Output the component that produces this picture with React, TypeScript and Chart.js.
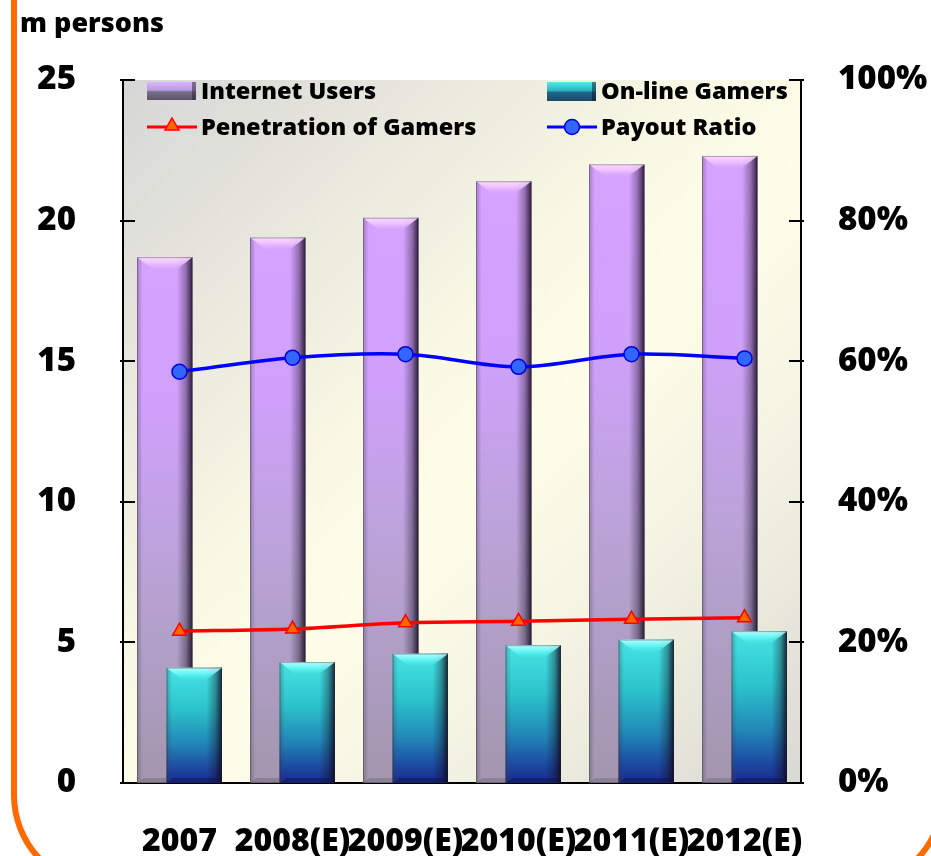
import React, { useEffect, useRef } from 'react';
import { Chart, registerables } from 'chart.js';

Chart.register(...registerables);

// ---------- DATA ----------
const categories = ['2007', '2008(E)', '2009(E)', '2010(E)', '2011(E)', '2012(E)'];
const internetUsers = [18.7, 19.4, 20.1, 21.4, 22.0, 22.3]; // m persons
const onlineGamers = [4.1, 4.3, 4.6, 4.9, 5.1, 5.4]; // m persons
const penetrationOfGamers = [21.6, 21.9, 22.8, 23.0, 23.3, 23.5]; // %
const payoutRatio = [58.5, 60.5, 61.0, 59.2, 61.0, 60.4]; // %
const leftAxisTicks = [0, 5, 10, 15, 20, 25];
const rightAxisTicks = [0, 20, 40, 60, 80, 100];
const rightAxisLabels = ['0%', '20%', '40%', '60%', '80%', '100%'];
const unitLabel = 'm persons';
const legendLabels = ['Internet Users', 'On-line Gamers', 'Penetration of Gamers', 'Payout Ratio'];

const FONT = "'Open Sans', 'DejaVu Sans', sans-serif";

function barFill(kind: 'purple' | 'teal') {
  return (c: any) => {
    const chart = c.chart;
    if (!chart.chartArea || c.type !== 'data' || c.raw == null) return kind === 'purple' ? '#c9a0f0' : '#2ab8c8';
    const ys = chart.scales.y;
    const top = ys.getPixelForValue(c.raw);
    const bottom = ys.getPixelForValue(0);
    const g = chart.ctx.createLinearGradient(0, top, 0, bottom);
    if (kind === 'purple') {
      g.addColorStop(0, '#d6a2ff');
      g.addColorStop(0.3, '#cfa0fa');
      g.addColorStop(0.6, '#b9a3d6');
      g.addColorStop(1, '#a396ad');
    } else {
      g.addColorStop(0, '#46e4e4');
      g.addColorStop(0.35, '#2cc4cc');
      g.addColorStop(0.65, '#2288b8');
      g.addColorStop(0.88, '#1c46a0');
      g.addColorStop(1, '#1a2a88');
    }
    return g;
  };
}

function drawBevel(ctx: CanvasRenderingContext2D, el: any, kind: 'purple' | 'teal') {
  const p = el.getProps(['x', 'y', 'base', 'width'], true);
  if (p.y == null || isNaN(p.y)) return;
  const left = p.x - p.width / 2;
  const right = p.x + p.width / 2;
  const top = Math.min(p.y, p.base);
  const bottom = Math.max(p.y, p.base);
  const w = right - left;
  const h = bottom - top;
  ctx.save();
  const gs = ctx.createLinearGradient(left, 0, right, 0);
  gs.addColorStop(0, 'rgba(70,60,80,0.35)');
  gs.addColorStop(0.1, 'rgba(70,60,80,0.0)');
  gs.addColorStop(0.72, 'rgba(20,10,30,0.0)');
  gs.addColorStop(0.88, 'rgba(20,10,30,0.35)');
  gs.addColorStop(1, 'rgba(15,5,25,0.85)');
  ctx.fillStyle = gs;
  ctx.fillRect(left, top, w, h);
  const d = Math.min(12, h / 3);
  ctx.beginPath();
  ctx.moveTo(left, top);
  ctx.lineTo(right, top);
  ctx.lineTo(right - d * 1.3, top + d);
  ctx.lineTo(left + d * 1.3, top + d);
  ctx.closePath();
  const gt = ctx.createLinearGradient(0, top, 0, top + d);
  if (kind === 'purple') {
    gt.addColorStop(0, 'rgba(255,225,255,0.9)');
    gt.addColorStop(0.5, 'rgba(245,200,255,0.8)');
    gt.addColorStop(1, 'rgba(220,170,255,0.3)');
  } else {
    gt.addColorStop(0, 'rgba(200,255,255,0.9)');
    gt.addColorStop(0.5, 'rgba(110,250,250,0.8)');
    gt.addColorStop(1, 'rgba(70,230,230,0.3)');
  }
  ctx.fillStyle = gt;
  ctx.fill();
  const db = 5;
  ctx.beginPath();
  ctx.moveTo(left, bottom);
  ctx.lineTo(right, bottom);
  ctx.lineTo(right - db * 1.3, bottom - db);
  ctx.lineTo(left + db * 1.3, bottom - db);
  ctx.closePath();
  ctx.fillStyle = kind === 'purple' ? 'rgba(110,105,115,0.45)' : 'rgba(10,20,90,0.5)';
  ctx.fill();
  ctx.strokeStyle = 'rgba(40,40,50,0.35)';
  ctx.lineWidth = 1;
  ctx.strokeRect(left + 0.5, top + 0.5, w - 1, h - 1);
  ctx.restore();
}

// Bars: Internet Users sits left in the group, On-line Gamers right and in front.
const bevelPlugin = {
  id: 'bevel',
  afterDatasetDraw(chart: any, args: any) {
    const ds = chart.data.datasets[args.index];
    if (!ds.bevel) return;
    const ctx = chart.ctx;
    const a = chart.chartArea;
    ctx.save();
    ctx.beginPath();
    ctx.rect(a.left, a.top, a.right - a.left, a.bottom - a.top);
    ctx.clip();
    args.meta.data.forEach((el: any) => drawBevel(ctx, el, ds.bevel));
    if (ds.frontOf) {
      const idx = chart.data.datasets.findIndex((d: any) => d.label === ds.frontOf);
      const meta = chart.getDatasetMeta(idx);
      const fds = chart.data.datasets[idx];
      meta.data.forEach((el: any) => {
        el.draw(ctx, a);
        drawBevel(ctx, el, fds.bevel);
      });
    }
    ctx.restore();
  },
};

const backgroundPlugin = {
  id: 'plotBg',
  beforeDraw(chart: any) {
    const a = chart.chartArea;
    const ctx = chart.ctx;
    ctx.save();
    const g = ctx.createLinearGradient(a.left, a.top, a.right, a.bottom);
    g.addColorStop(0, '#d6d6d6');
    g.addColorStop(0.42, '#f8f8e4');
    g.addColorStop(0.55, '#fdfde8');
    g.addColorStop(0.75, '#f2f2e2');
    g.addColorStop(1, '#d9d9d4');
    ctx.fillStyle = g;
    ctx.fillRect(a.left, a.top, a.right - a.left, a.bottom - a.top);
    ctx.restore();
  },
};

function drawTriangle(ctx: CanvasRenderingContext2D, x: number, y: number, r: number) {
  ctx.beginPath();
  ctx.moveTo(x, y - r);
  ctx.lineTo(x + r * 0.866, y + r * 0.5);
  ctx.lineTo(x - r * 0.866, y + r * 0.5);
  ctx.closePath();
  ctx.fillStyle = '#ff6600';
  ctx.fill();
  ctx.strokeStyle = '#ff0000';
  ctx.lineWidth = 1.5;
  ctx.stroke();
}

const overlayPlugin = {
  id: 'overlay',
  afterDraw(chart: any) {
    const ctx = chart.ctx as CanvasRenderingContext2D;
    const a = chart.chartArea;
    ctx.save();
    ctx.strokeStyle = '#000';
    ctx.lineWidth = 2;
    const ys = chart.scales.y;
    leftAxisTicks.forEach((v) => {
      const py = Math.round(ys.getPixelForValue(v));
      ctx.beginPath();
      ctx.moveTo(a.left - 3, py);
      ctx.lineTo(a.left + 12, py);
      ctx.stroke();
    });
    const y1 = chart.scales.y1;
    rightAxisTicks.forEach((v) => {
      const py = Math.round(y1.getPixelForValue(v));
      ctx.beginPath();
      ctx.moveTo(a.right - 12, py);
      ctx.lineTo(a.right + 3, py);
      ctx.stroke();
    });

    ctx.fillStyle = '#000';
    ctx.font = `800 27px ${FONT}`;
    ctx.textAlign = 'left';
    ctx.textBaseline = 'alphabetic';
    ctx.fillText(unitLabel, 20, 32);

    const col1 = a.left + 24;
    const col2 = a.left + 424;
    const row1 = a.top + 11;
    const row2 = a.top + 47;
    const sw = 49;
    let g = ctx.createLinearGradient(0, row1 - 9, 0, row1 + 9);
    g.addColorStop(0, '#dab4ff');
    g.addColorStop(0.45, '#b79ce0');
    g.addColorStop(0.55, '#7a6e8a');
    g.addColorStop(1, '#5c5468');
    ctx.fillStyle = g;
    ctx.fillRect(col1, row1 - 9, sw, 18);
    ctx.fillStyle = 'rgba(40,30,50,0.5)';
    ctx.fillRect(col1 + sw - 4, row1 - 9, 4, 18);
    g = ctx.createLinearGradient(0, row1 - 9, 0, row1 + 10);
    g.addColorStop(0, '#54eaea');
    g.addColorStop(0.45, '#2ab2c0');
    g.addColorStop(0.55, '#1e6688');
    g.addColorStop(1, '#1a4868');
    ctx.fillStyle = g;
    ctx.fillRect(col2, row1 - 9, sw, 19);
    ctx.fillStyle = 'rgba(10,20,40,0.5)';
    ctx.fillRect(col2 + sw - 4, row1 - 9, 4, 19);
    ctx.strokeStyle = '#ff0000';
    ctx.lineWidth = 3;
    ctx.beginPath();
    ctx.moveTo(col1, row2);
    ctx.lineTo(col1 + sw + 1, row2);
    ctx.stroke();
    drawTriangle(ctx, col1 + 25, row2 - 1, 8);
    ctx.strokeStyle = '#0000ff';
    ctx.lineWidth = 3;
    ctx.beginPath();
    ctx.moveTo(col2, row2);
    ctx.lineTo(col2 + sw + 1, row2);
    ctx.stroke();
    ctx.beginPath();
    ctx.arc(col2 + 25, row2, 7.5, 0, Math.PI * 2);
    ctx.fillStyle = '#3366ff';
    ctx.fill();
    ctx.strokeStyle = '#0000dd';
    ctx.lineWidth = 1.5;
    ctx.stroke();
    ctx.fillStyle = '#000';
    ctx.font = `800 23.5px ${FONT}`;
    ctx.textBaseline = 'middle';
    ctx.fillText(legendLabels[0], col1 + sw + 5, row1 + 1);
    ctx.fillText(legendLabels[1], col2 + sw + 5, row1 + 1);
    ctx.fillText(legendLabels[2], col1 + sw + 5, row2 + 1);
    ctx.fillText(legendLabels[3], col2 + sw + 5, row2 + 1);
    ctx.restore();
  },
};

const tickFont = { family: FONT, size: 33, weight: '800' };
const CAT_PCT = 0.522;
const BAR_PCT = 1.88;

export default function App() {
  const ref = useRef<HTMLCanvasElement>(null);

  useEffect(() => {
    const canvas = ref.current;
    if (!canvas) return;
    const chart = new Chart(canvas, {
      data: {
        labels: categories,
        datasets: [
          {
            type: 'line',
            label: legendLabels[2],
            data: penetrationOfGamers,
            yAxisID: 'y1',
            order: 0,
            borderColor: '#ff0000',
            borderWidth: 3.5,
            tension: 0.3,
            pointStyle: 'triangle',
            pointRadius: 8,
            pointBackgroundColor: '#ff6600',
            pointBorderColor: '#ff0000',
            pointBorderWidth: 1.5,
          },
          {
            type: 'line',
            label: legendLabels[3],
            data: payoutRatio,
            yAxisID: 'y1',
            order: 0,
            borderColor: '#0000ff',
            borderWidth: 3.5,
            tension: 0.35,
            pointStyle: 'circle',
            pointRadius: 7.5,
            pointBackgroundColor: '#3366ff',
            pointBorderColor: '#0000dd',
            pointBorderWidth: 1.5,
          },
          {
            type: 'bar',
            label: legendLabels[0],
            data: internetUsers,
            yAxisID: 'y',
            order: 1,
            categoryPercentage: CAT_PCT,
            barPercentage: BAR_PCT,
            borderWidth: 0,
            backgroundColor: barFill('purple'),
            bevel: 'purple',
            frontOf: legendLabels[1],
          } as any,
          {
            type: 'bar',
            label: legendLabels[1],
            data: onlineGamers,
            yAxisID: 'y',
            order: 2,
            categoryPercentage: CAT_PCT,
            barPercentage: BAR_PCT,
            borderWidth: 0,
            backgroundColor: barFill('teal'),
            bevel: 'teal',
          } as any,
        ],
      } as any,
      options: {
        responsive: false,
        animation: false,
        events: [],
        devicePixelRatio: 1,
        layout: { padding: { top: 80, left: 0, right: 0, bottom: 0 } },
        plugins: {
          legend: { display: false },
          tooltip: { enabled: false },
          title: { display: false },
        },
        scales: {
          x: {
            type: 'category',
            offset: true,
            position: 'bottom',
            grid: { display: false, drawTicks: false },
            border: { display: true, color: '#000', width: 2 },
            ticks: {
              autoSkip: false,
              maxRotation: 0,
              minRotation: 0,
              padding: 40,
              color: '#000',
              font: { family: FONT, size: 32, weight: '800' },
            },
            afterFit: (s: any) => {
              s.height = 73;
            },
          },
          y: {
            type: 'linear',
            position: 'left',
            min: 0,
            max: 25,
            grid: { display: false, drawTicks: false },
            border: { display: true, color: '#000', width: 2 },
            afterBuildTicks: (s: any) => {
              s.ticks = leftAxisTicks.map((v) => ({ value: v }));
            },
            ticks: { padding: 47, color: '#000', font: tickFont },
            afterFit: (s: any) => {
              s.width = 123;
            },
          },
          y1: {
            type: 'linear',
            position: 'right',
            min: 0,
            max: 100,
            grid: { display: false, drawTicks: false },
            border: { display: true, color: '#000', width: 2 },
            afterBuildTicks: (s: any) => {
              s.ticks = rightAxisTicks.map((v) => ({ value: v }));
            },
            ticks: {
              padding: 37,
              color: '#000',
              font: tickFont,
              callback: (v: any) => rightAxisLabels[rightAxisTicks.indexOf(Number(v))] ?? `${v}%`,
            },
            afterFit: (s: any) => {
              s.width = 130;
            },
          },
        },
      } as any,
      plugins: [backgroundPlugin, bevelPlugin, overlayPlugin],
    });
    return () => chart.destroy();
  }, []);

  return (
    <div
      style={{
        position: 'absolute',
        left: 0,
        top: 0,
        width: 931,
        height: 856,
        overflow: 'hidden',
        background: '#ffffff',
      }}
    >
      <div
        style={{
          position: 'absolute',
          left: 11,
          top: -100,
          width: 935,
          height: 990,
          border: '6px solid #ff6a00',
          borderRadius: 95,
          boxSizing: 'border-box',
        }}
      />
      <canvas
        ref={ref}
        width={931}
        height={856}
        style={{ position: 'absolute', left: 0, top: 0, width: 931, height: 856 }}
      />
    </div>
  );
}
